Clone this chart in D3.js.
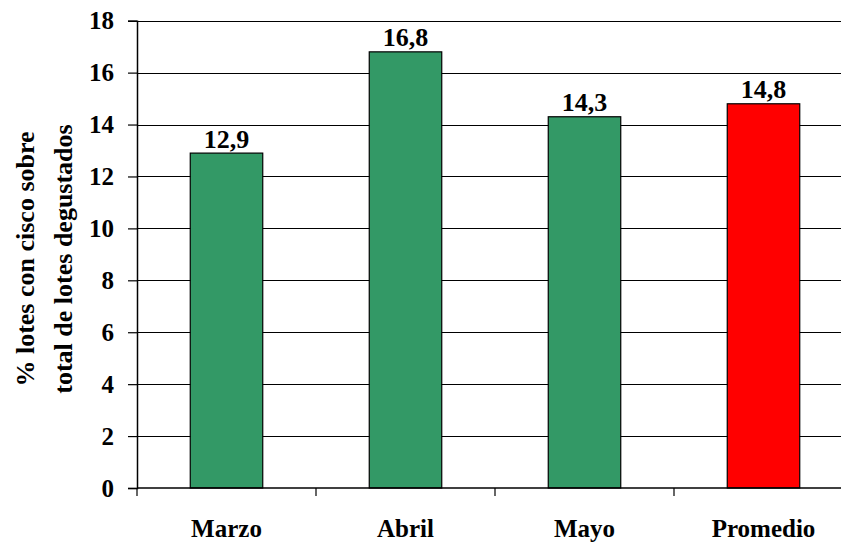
<!DOCTYPE html>
<html>
<head>
<meta charset="utf-8">
<script src="https://cdn.jsdelivr.net/npm/d3@7"></script>
<style>
  html, body { margin: 0; padding: 0; background: #fff; }
  svg { display: block; }
</style>
</head>
<body>
<svg id="chart" width="841" height="543"></svg>
<script>
// Porcentaje de lotes con cisco sobre el total de lotes degustados
const categories = ["Marzo", "Abril", "Mayo", "Promedio"];
const values = [12.9, 16.8, 14.3, 14.8];
const barColors = ["#339966", "#339966", "#339966", "#ff0000"];
const yTicks = [0, 2, 4, 6, 8, 10, 12, 14, 16, 18];
const yTitleLines = ["% lotes con cisco sobre", "total de lotes degustados"];

const FONT = "Liberation Serif";

const svg = d3.select("#chart");
const plot = { left: 137, top: 20.7, bottom: 488, step: 179 };

const x = d3.scaleBand()
  .domain(categories)
  .range([plot.left, plot.left + plot.step * categories.length])
  .padding(0);
const y = d3.scaleLinear().domain([0, 18]).range([plot.bottom, plot.top]);
const barW = x.step() * 0.405;
const fmt = v => d3.format(".1f")(v).replace(".", ",");

function styleText(sel, size) {
  sel.attr("font-family", FONT)
    .attr("font-weight", "bold")
    .attr("font-size", size)
    .attr("fill", "#000");
}

// horizontal gridlines
svg.append("g")
  .selectAll("line")
  .data(yTicks.filter(t => t > 0))
  .join("line")
  .attr("x1", plot.left).attr("x2", x.range()[1])
  .attr("y1", d => Math.round(y(d)) + 0.5).attr("y2", d => Math.round(y(d)) + 0.5)
  .attr("stroke", "#000").attr("stroke-width", 1.2);

// bars
svg.append("g")
  .selectAll("rect")
  .data(values)
  .join("rect")
  .attr("x", (d, i) => x(categories[i]) + (x.step() - barW) / 2)
  .attr("y", d => y(d))
  .attr("width", barW)
  .attr("height", d => y(0) - y(d))
  .attr("fill", (d, i) => barColors[i])
  .attr("stroke", "#000").attr("stroke-width", 1.2);

// value labels
svg.append("g")
  .selectAll("text")
  .data(values)
  .join("text")
  .attr("x", (d, i) => x(categories[i]) + x.step() / 2)
  .attr("y", d => y(d) - 5.5)
  .attr("text-anchor", "middle")
  .call(styleText, 26)
  .text(d => fmt(d));

// y axis
const yAxis = svg.append("g")
  .attr("transform", `translate(${plot.left},0)`)
  .call(d3.axisLeft(y).tickValues(yTicks).tickSize(9).tickPadding(14).tickFormat(d3.format("d")));
yAxis.select(".domain").attr("stroke", "#000").attr("stroke-width", 1.5);
yAxis.selectAll(".tick line").attr("stroke", "#000").attr("stroke-width", 1.2);
yAxis.selectAll(".tick text").call(styleText, 25);

// x axis: ticks between categories
const bounds = categories.map(c => x(c)).concat([x.range()[1]]);
const xAxis = svg.append("g");
xAxis.append("line")
  .attr("x1", plot.left).attr("x2", x.range()[1])
  .attr("y1", plot.bottom).attr("y2", plot.bottom)
  .attr("stroke", "#000").attr("stroke-width", 1.5);
xAxis.selectAll("line.tk")
  .data(bounds)
  .join("line")
  .attr("class", "tk")
  .attr("x1", d => d).attr("x2", d => d)
  .attr("y1", plot.bottom).attr("y2", plot.bottom + 8)
  .attr("stroke", "#000").attr("stroke-width", 1.2);
xAxis.selectAll("text")
  .data(categories)
  .join("text")
  .attr("x", d => x(d) + x.step() / 2)
  .attr("y", 537)
  .attr("text-anchor", "middle")
  .call(styleText, 25)
  .text(d => d);

// y axis title (two lines, rotated)
const titleBaselines = [33.5, 71.7];
svg.append("g")
  .selectAll("text")
  .data(yTitleLines)
  .join("text")
  .attr("transform", (d, i) => `translate(${titleBaselines[i]},${259}) rotate(-90)`)
  .attr("text-anchor", "middle")
  .call(styleText, 26)
  .text(d => d);
</script>
</body>
</html>
